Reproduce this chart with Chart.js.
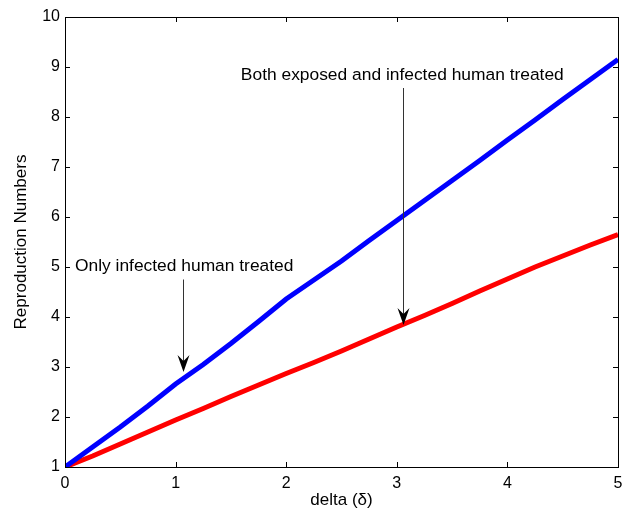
<!DOCTYPE html>
<html>
<head>
<meta charset="utf-8">
<script src="https://cdn.jsdelivr.net/npm/chart.js@4.4.0/dist/chart.umd.min.js"></script>
<style>
  html, body { margin: 0; padding: 0; background: #fff; }
  #wrap { width: 631px; height: 515px; }
</style>
</head>
<body>
<div id="wrap"><canvas id="myChart" width="631" height="515"></canvas></div>
<script>
const deltaValues = [0, 0.25, 0.5, 0.75, 1, 1.25, 1.5, 1.75, 2, 2.25, 2.5, 2.75, 3, 3.25, 3.5, 3.75, 4, 4.25, 4.5, 4.75, 5];
const bothTreated = [1.00, 1.40, 1.80, 2.22, 2.66, 3.05, 3.47, 3.91, 4.36, 4.74, 5.12, 5.53, 5.93, 6.33, 6.73, 7.13, 7.54, 7.94, 8.35, 8.75, 9.15];
const onlyInfected = [1.00, 1.22, 1.46, 1.70, 1.94, 2.17, 2.41, 2.64, 2.87, 3.09, 3.32, 3.56, 3.80, 4.03, 4.27, 4.52, 4.76, 5.00, 5.22, 5.44, 5.65];
const xTicks = [0, 1, 2, 3, 4, 5];
const yTicks = [1, 2, 3, 4, 5, 6, 7, 8, 9, 10];

// annotation text, arrow in data units
const notes = [
  { text: 'Only infected human treated', tx: 0.09, ty: 5.02, ax: 1.07, ay0: 4.75, ay1: 2.9 },
  { text: 'Both exposed and infected human treated', tx: 1.59, ty: 8.84, ax: 3.06, ay0: 8.58, ay1: 3.84 }
];

const FONT = 'Liberation Sans, Arial, sans-serif';

const boxPlugin = {
  id: 'box',
  afterDatasetsDraw(chart) {
    const { ctx, chartArea: a, scales: { x, y } } = chart;
    ctx.save();
    ctx.strokeStyle = '#000';
    ctx.lineWidth = 1;
    ctx.strokeRect(a.left + 0.5, a.top + 0.5, a.right - a.left, a.bottom - a.top);
    const tl = 5;
    ctx.beginPath();
    xTicks.forEach(v => {
      const px = Math.round(x.getPixelForValue(v)) + 0.5;
      ctx.moveTo(px, a.bottom); ctx.lineTo(px, a.bottom - tl);
      ctx.moveTo(px, a.top); ctx.lineTo(px, a.top + tl);
    });
    yTicks.forEach(v => {
      const py = Math.round(y.getPixelForValue(v)) + 0.5;
      ctx.moveTo(a.left, py); ctx.lineTo(a.left + tl, py);
      ctx.moveTo(a.right, py); ctx.lineTo(a.right - tl, py);
    });
    ctx.stroke();

    // annotations
    ctx.font = '17.4px ' + FONT;
    ctx.textBaseline = 'middle';
    ctx.fillStyle = '#000';
    notes.forEach(n => {
      ctx.fillText(n.text, x.getPixelForValue(n.tx), y.getPixelForValue(n.ty));
      const ax = Math.round(x.getPixelForValue(n.ax)) + 0.5;
      const y0 = y.getPixelForValue(n.ay0);
      const y1 = y.getPixelForValue(n.ay1);
      ctx.strokeStyle = '#333';
      ctx.beginPath();
      ctx.moveTo(ax, y0); ctx.lineTo(ax, y1 - 4);
      ctx.stroke();
      ctx.fillStyle = '#000';
      ctx.beginPath();
      ctx.moveTo(ax, y1);
      ctx.lineTo(ax - 6, y1 - 17);
      ctx.lineTo(ax, y1 - 11);
      ctx.lineTo(ax + 6, y1 - 17);
      ctx.closePath();
      ctx.fill();
    });
    ctx.restore();
  }
};

const toPoints = vals => vals.map((v, i) => ({ x: deltaValues[i], y: v }));

new Chart(document.getElementById('myChart').getContext('2d'), {
  type: 'line',
  data: {
    datasets: [
      { data: toPoints(bothTreated), borderColor: '#0000ff', borderWidth: 5, pointRadius: 0, tension: 0 },
      { data: toPoints(onlyInfected), borderColor: '#ff0000', borderWidth: 5, pointRadius: 0, tension: 0 }
    ]
  },
  options: {
    responsive: false,
    animation: false,
    layout: { padding: { top: 17, right: 13, left: 0, bottom: 0 } },
    plugins: { legend: { display: false }, tooltip: { enabled: false } },
    scales: {
      x: {
        type: 'linear', min: 0, max: 5,
        afterBuildTicks: s => { s.ticks = xTicks.map(v => ({ value: v })); },
        afterFit: s => { s.height = 48; },
        grid: { display: false, drawTicks: false },
        border: { display: false },
        ticks: { color: '#000', font: { size: 16, family: FONT }, padding: 7 },
        title: { display: true, text: 'delta (δ)', color: '#000', font: { size: 17, family: FONT }, padding: { top: 2, bottom: 4 } }
      },
      y: {
        type: 'linear', min: 1, max: 10,
        afterBuildTicks: s => { s.ticks = yTicks.map(v => ({ value: v })); },
        afterFit: s => { s.width = 65; },
        grid: { display: false, drawTicks: false },
        border: { display: false },
        ticks: { color: '#000', font: { size: 16, family: FONT }, padding: 5 },
        title: { display: true, text: 'Reproduction Numbers', color: '#000', font: { size: 17, family: FONT }, padding: { top: 11, bottom: 0 } }
      }
    }
  },
  plugins: [boxPlugin]
});
</script>
</body>
</html>
